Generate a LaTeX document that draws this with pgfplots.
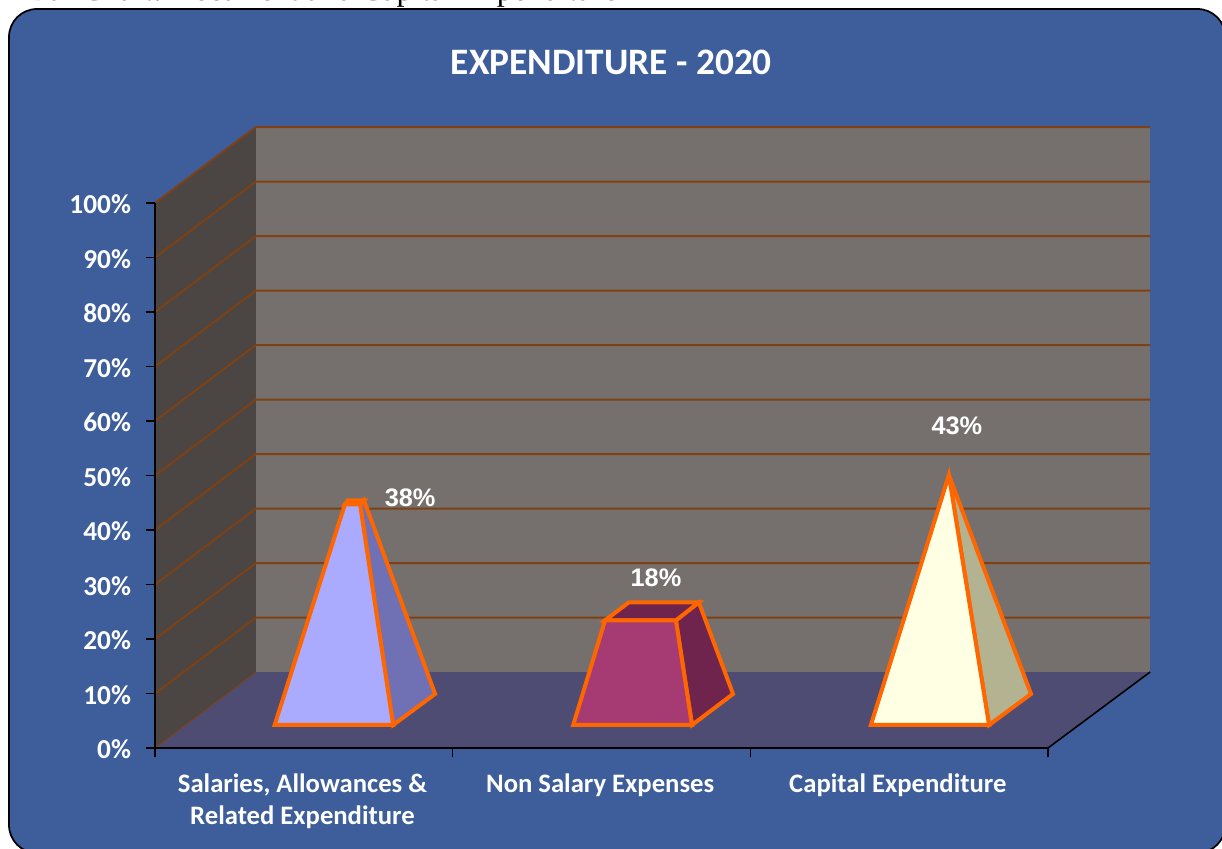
\documentclass[border=0pt]{standalone}
\usepackage{fontspec}
\setmainfont{Carlito}
\newfontfamily\labelfont{Liberation Sans}
\newfontfamily\captionfont{Liberation Serif}
\usepackage{pgfplots}
\pgfplotsset{compat=1.18}

\definecolor{panel}{HTML}{3D5E9B}
\definecolor{backwall}{HTML}{75706D}
\definecolor{sidewall}{HTML}{4B4643}
\definecolor{floorc}{HTML}{4E4C72}
\definecolor{gridc}{HTML}{7F4113}
\definecolor{edgec}{HTML}{FF6600}
\definecolor{lilac}{HTML}{AAAAFF}
\definecolor{lilacside}{HTML}{7070B4}
\definecolor{plum}{HTML}{A63A72}
\definecolor{plumside}{HTML}{6F244D}
\definecolor{cream}{HTML}{FFFFE3}
\definecolor{creamside}{HTML}{B3B391}

\begin{document}
\begin{tikzpicture}
\useasboundingbox (0,0) rectangle (916.5pt,636.75pt);
\clip (0,0) rectangle (916.5pt,636.75pt);
% line of running text above the panel
\node[anchor=base east,inner sep=0pt,font=\captionfont\fontsize{24}{24}\selectfont] at (463.5pt,636.3pt)
  {Bar Chart: Recurrent and Capital Expenditure};
% rounded chart panel
\draw[draw=black,line width=1.3pt,fill=panel,rounded corners=21pt]
  (6.75pt,630pt) rectangle (919pt,-3pt);
\node[text=white,font=\bfseries\fontsize{28}{28}\selectfont] at (458.5pt,590pt) {EXPENDITURE - 2020};

\begin{axis}[
  at={(116.25pt,75.75pt)},anchor=south west,
  scale only axis,width=669.75pt,height=408.75pt,
  xmin=0,xmax=3,ymin=0,ymax=100,
  clip=false,axis on top,
  axis lines*=left,
  axis line style={black,line width=1.2pt},
  tick style={black,line width=1pt},
  major tick length=7pt,tick align=outside,
  xtick={0,1,2,3},
  x tick label as interval,
  xticklabels={{Salaries, Allowances \&\\Related Expenditure},{Non Salary Expenses},{Capital Expenditure}},
  x tick label style={text=white,font=\bfseries\fontsize{20}{24}\selectfont,align=center,anchor=north,yshift=-9pt,xshift=-1pt},
  ytick={0,10,...,100},
  yticklabels={0\%,10\%,20\%,30\%,40\%,50\%,60\%,70\%,80\%,90\%,100\%},
  y tick label style={text=white,font=\bfseries\fontsize{20.5}{20.5}\selectfont,anchor=east,xshift=-7.5pt,yshift=-1pt},
]
% walls and floor of the chart box
\addplot[fill=backwall,draw=none] coordinates {(0.339,13.94)(3.343,13.94)(3.343,113.94)(0.339,113.94)} -- cycle;
\addplot[fill=sidewall,draw=none] coordinates {(0,0)(0.339,13.94)(0.339,113.94)(0,100)} -- cycle;
\addplot[fill=floorc,draw=none] coordinates {(0,0)(3,0)(3.343,13.94)(0.339,13.94)} -- cycle;
\addplot[black,line width=1.2pt] coordinates {(3,0)(3.343,13.94)};
% gridlines across side wall and back wall
\pgfplotsset{grid line/.style={gridc,line width=1.5pt}}
\addplot[gridc,line width=0.7pt] coordinates {(0,0)(0.339,13.94)};
\addplot[grid line] coordinates {(0,10)(0.339,23.94)(3.343,23.94)};
\addplot[grid line] coordinates {(0,20)(0.339,33.94)(3.343,33.94)};
\addplot[grid line] coordinates {(0,30)(0.339,43.94)(3.343,43.94)};
\addplot[grid line] coordinates {(0,40)(0.339,53.94)(3.343,53.94)};
\addplot[grid line] coordinates {(0,50)(0.339,63.94)(3.343,63.94)};
\addplot[grid line] coordinates {(0,60)(0.339,73.94)(3.343,73.94)};
\addplot[grid line] coordinates {(0,70)(0.339,83.94)(3.343,83.94)};
\addplot[grid line] coordinates {(0,80)(0.339,93.94)(3.343,93.94)};
\addplot[grid line] coordinates {(0,90)(0.339,103.94)(3.343,103.94)};
\addplot[grid line] coordinates {(0,100)(0.339,113.94)(3.343,113.94)};

\pgfplotsset{face/.style={draw=edgec,line width=3pt,line join=miter}}
% Salaries, Allowances & Related Expenditure: 38%
\addplot[face,fill=lilacside] coordinates {(0.800,4.22)(0.941,9.91)(0.702,45.44)(0.689,44.70)} -- cycle;
\addplot[face,fill=lilacside] coordinates {(0.638,44.70)(0.689,44.70)(0.702,45.44)(0.648,45.44)} -- cycle;
\addplot[face,fill=lilac] coordinates {(0.402,4.22)(0.800,4.22)(0.689,44.70)(0.638,44.70)} -- cycle;
% Non Salary Expenses: 18%
\addplot[face,fill=plumside] coordinates {(1.804,4.22)(1.942,9.91)(1.827,26.72)(1.750,23.42)} -- cycle;
\addplot[face,fill=plumside] coordinates {(1.512,23.42)(1.750,23.42)(1.827,26.72)(1.592,26.72)} -- cycle;
\addplot[face,fill=plum] coordinates {(1.405,4.22)(1.804,4.22)(1.750,23.42)(1.512,23.42)} -- cycle;
% Capital Expenditure: 43%
\addplot[face,fill=creamside] coordinates {(2.802,4.22)(2.943,9.91)(2.667,50.07)} -- cycle;
\addplot[face,fill=cream] coordinates {(2.405,4.22)(2.802,4.22)(2.667,50.07)} -- cycle;
% value labels
\addplot[only marks,mark=none,nodes near coords,point meta=explicit symbolic,
  every node near coord/.style={text=white,anchor=center,font=\labelfont\bfseries\fontsize{19}{19}\selectfont}]
  table[meta=label] {
  x y label
  0.857 45.9 38\%
  1.683 31.2 18\%
  2.694 59.1 43\%
};
\end{axis}
\end{tikzpicture}
\end{document}
